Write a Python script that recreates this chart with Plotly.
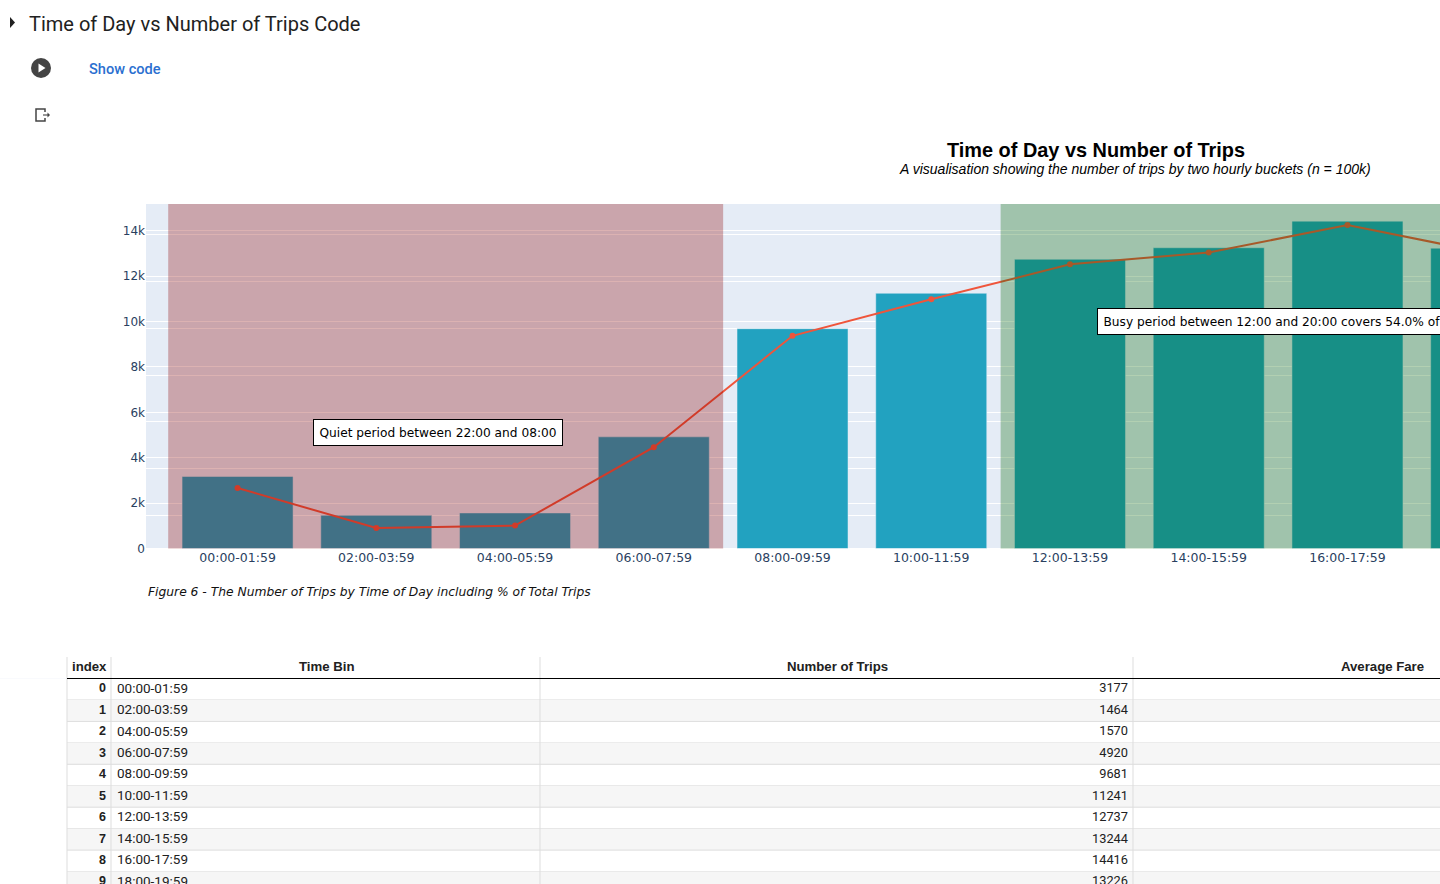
import plotly.graph_objects as go

time_bins = ['00:00-01:59', '02:00-03:59', '04:00-05:59', '06:00-07:59', '08:00-09:59',
             '10:00-11:59', '12:00-13:59', '14:00-15:59', '16:00-17:59', '18:00-19:59']
trips = [3177, 1464, 1570, 4920, 9681, 11241, 12737, 13244, 14416, 13226]
trip_pct = [3.177, 1.464, 1.57, 4.92, 9.681, 11.241, 12.737, 13.244, 14.416, 13.226]
row_index = [0, 1, 2, 3, 4, 5, 6, 7, 8, 9]
y_ticks = [0, 2000, 4000, 6000, 8000, 10000, 12000, 14000]

W, H = 1440, 884

def px(v):
    return v / W

def py(v):
    return 1 - v / H

fig = go.Figure()

# chart
fig.add_trace(go.Bar(x=time_bins, y=trips, marker_color='#22A2C0', width=0.8, xaxis='x', yaxis='y'))
fig.add_trace(go.Scatter(x=time_bins, y=trip_pct, mode='lines+markers', line=dict(color='#EF553B', width=2),
                         marker=dict(color='#EF553B', size=6), xaxis='x', yaxis='y2'))

# table text, on its own axes
fig.add_trace(go.Scatter(x=[106] * len(row_index), y=row_index, text=[f'<b>{i}</b>' for i in row_index], mode='text',
                         textposition='middle left', textfont=dict(family='Liberation Sans', size=12.5, color='#212121'),
                         xaxis='x3', yaxis='y3'))
fig.add_trace(go.Scatter(x=[117] * len(row_index), y=row_index, text=time_bins, mode='text',
                         textposition='middle right', textfont=dict(family='Roboto', size=13.5, color='#212121'),
                         xaxis='x3', yaxis='y3'))
fig.add_trace(go.Scatter(x=[1128] * len(row_index), y=row_index, text=[str(t) for t in trips], mode='text',
                         textposition='middle left', textfont=dict(family='Roboto', size=12.8, color='#212121'),
                         xaxis='x3', yaxis='y3'))

shapes = [
    dict(type='rect', xref='x', yref='y domain', x0=-0.5, x1=3.5, y0=0, y1=1, fillcolor='darkred', opacity=0.3,
         line_width=0, layer='above'),
    dict(type='rect', xref='x', yref='y domain', x0=5.5, x1=9.5, y0=0, y1=1, fillcolor='darkgreen', opacity=0.3,
         line_width=0, layer='above'),
    # white page behind the table
    dict(type='rect', xref='paper', yref='paper', x0=0, x1=1, y0=0, y1=py(678.5), fillcolor='#FFFFFF', line_width=0,
         layer='below'),
]

# table stripes and rules
for i in row_index:
    if i % 2 == 1:
        shapes.append(dict(type='rect', xref='paper', yref='y3', x0=px(67), x1=1, y0=i - 0.5, y1=i + 0.5,
                           fillcolor='#F6F6F6', line_width=0, layer='below'))
    shapes.append(dict(type='line', xref='paper', yref='y3', x0=px(67), x1=1, y0=i + 0.5, y1=i + 0.5,
                       line=dict(color='#DDDDDD', width=1), layer='below'))
for xpos in [67, 111, 540, 1133]:
    shapes.append(dict(type='line', xref='paper', yref='paper', x0=px(xpos), x1=px(xpos), y0=py(657), y1=0,
                       line=dict(color='#DDDDDD', width=1), layer='below'))
shapes.append(dict(type='line', xref='paper', yref='paper', x0=px(67), x1=1, y0=py(678.5), y1=py(678.5),
                   line=dict(color='#000000', width=1.2), layer='above'))

# notebook icons
shapes.append(dict(type='path', xref='paper', yref='paper',
                   path=f'M {px(10)} {py(17)} L {px(15)} {py(22.5)} L {px(10)} {py(28)} Z',
                   fillcolor='#212121', line_width=0))
shapes.append(dict(type='circle', xref='paper', yref='paper', x0=px(31), x1=px(51), y0=py(78), y1=py(58),
                   fillcolor='#444444', line_width=0))
shapes.append(dict(type='path', xref='paper', yref='paper',
                   path=f'M {px(38.5)} {py(63.5)} L {px(45.5)} {py(68)} L {px(38.5)} {py(72.5)} Z',
                   fillcolor='#FFFFFF', line_width=0))
shapes.append(dict(type='path', xref='paper', yref='paper',
                   path=f'M {px(45)} {py(112)} L {px(45)} {py(109)} L {px(36)} {py(109)} L {px(36)} {py(121)} '
                        f'L {px(45)} {py(121)} L {px(45)} {py(118)}',
                   line=dict(color='#444444', width=1.5)))
shapes.append(dict(type='line', xref='paper', yref='paper', x0=px(43), x1=px(48), y0=py(115), y1=py(115),
                   line=dict(color='#777777', width=1.5)))
shapes.append(dict(type='path', xref='paper', yref='paper',
                   path=f'M {px(47.5)} {py(112.5)} L {px(50)} {py(115)} L {px(47.5)} {py(117.5)} Z',
                   fillcolor='#444444', line_width=0))

annotations = []

def label(text, x, y, size, family='Liberation Sans', color='#000000', xanchor='left', weight=None):
    annotations.append(dict(text=text, xref='paper', yref='paper', x=px(x), y=py(y), showarrow=False,
                            xanchor=xanchor, yanchor='middle', align='left', borderpad=0,
                            font=dict(family=family, size=size, color=color, weight=weight)))

label('Time of Day vs Number of Trips Code', 28, 24, 20, 'Roboto', '#212121')
label('Show code', 88, 69.4, 14.6, 'Roboto', '#2A6FD0', weight=500)
label('<b>Time of Day vs Number of Trips</b>', 1096, 150, 19.9, xanchor='center')
label('<i>A visualisation showing the number of trips by two hourly buckets (n = 100k)</i>', 1134.5, 169, 14, xanchor='center')
label('<i>Figure 6 - The Number of Trips by Time of Day including % of Total Trips</i>', 146.5, 592, 12.3, 'DejaVu Sans', '#111111')
label('<b>index</b>', 89, 666, 13.2, xanchor='center', color='#212121')
label('<b>Time Bin</b>', 326, 666, 13.2, xanchor='center', color='#212121')
label('<b>Number of Trips</b>', 837, 666, 13.2, xanchor='center', color='#212121')
label('<b>Average Fare</b>', 1382, 666, 13.2, xanchor='center', color='#212121')

box_font = dict(family='DejaVu Sans', size=12.2, color='#000000')
annotations.append(dict(text='Quiet period between 22:00 and 08:00', xref='x', yref='y', x=1.445, y=5090, showarrow=False,
                        bgcolor='#FFFFFF', bordercolor='#000000', borderwidth=1, borderpad=5.5, font=box_font))
annotations.append(dict(text='Busy period between 12:00 and 20:00 covers 54.0% of total trips', xref='x', yref='y',
                        x=6.197, y=10010, xanchor='left', showarrow=False, bgcolor='#FFFFFF', bordercolor='#000000',
                        borderwidth=1, borderpad=5.5, font=box_font))

fig.update_layout(
    width=W, height=H, margin=dict(l=0, r=0, t=0, b=0), showlegend=False, hovermode=False,
    paper_bgcolor='#FFFFFF', plot_bgcolor='#E5ECF6', shapes=shapes, annotations=annotations,
    font=dict(family='DejaVu Sans', color='#2A3F5F'),
    xaxis=dict(domain=[px(146), 1], range=[-0.66, 8.667], type='category', categoryorder='array',
               categoryarray=time_bins, anchor='y', showgrid=False, tickfont=dict(size=12.5), automargin=False),
    yaxis=dict(domain=[py(548.6), py(204)], range=[0, 15170], tickvals=y_ticks,
               ticktext=['0', '2k', '4k', '6k', '8k', '10k', '12k', '14k'], gridcolor='#FFFFFF', zerolinecolor='#FFFFFF',
               tickfont=dict(size=12), automargin=False),
    yaxis2=dict(domain=[py(548.6), py(204)], overlaying='y', side='right', anchor='x', range=[0.585, 15.316], dtick=2,
                tick0=0, showticklabels=False, gridcolor='#FFFFFF', zeroline=False),
    xaxis3=dict(domain=[0, 1], range=[0, W], visible=False, anchor='y3', fixedrange=True),
    yaxis3=dict(domain=[0, py(678.5)], range=[9.08, -0.5], visible=False, anchor='x3', fixedrange=True),
)

fig.write_html('out.html', config=dict(displayModeBar=False), post_script="document.body.style.margin='0';")
